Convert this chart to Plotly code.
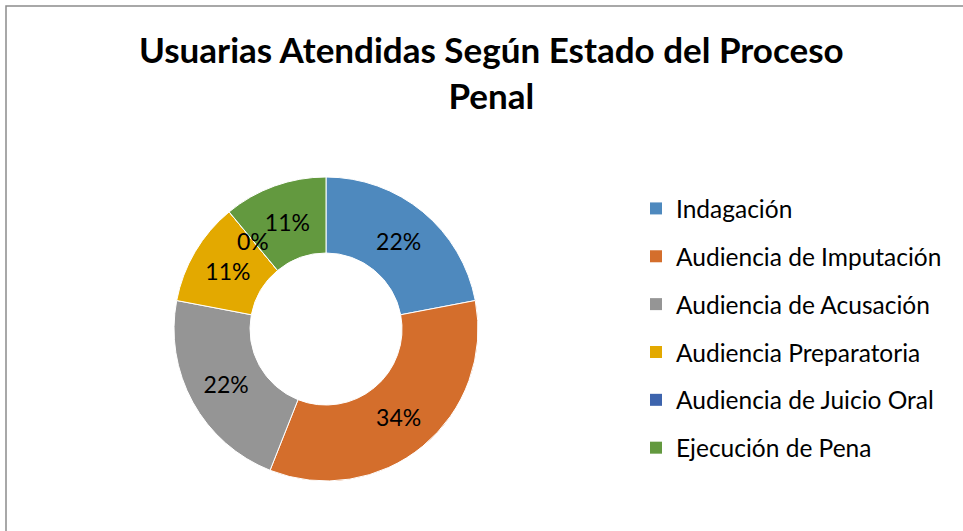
import math
import plotly.graph_objects as go

# Datos del gráfico
estados = [
    "Indagación",
    "Audiencia de Imputación",
    "Audiencia de Acusación",
    "Audiencia Preparatoria",
    "Audiencia de Juicio Oral",
    "Ejecución de Pena",
]
porcentajes = [22, 34, 22, 11, 0, 11]
colores = ["#4E89BE", "#D46E2C", "#959595", "#E3A900", "#3D64AD", "#63993F"]
titulo = "Usuarias Atendidas Según Estado del Proceso<br>Penal"

W, H = 963, 531
FONT = "Lato"
HOLE = 0.5
dom_x = [174 / W, 478 / W]
dom_y = [1 - 481 / H, 1 - 177 / H]

fig = go.Figure()

# Las porciones de valor cero no tienen ángulo propio en el trazo; su
# etiqueta se coloca aparte en el borde donde quedaría la porción.
posiciones = ["none" if v == 0 else "inside" for v in porcentajes]

fig.add_trace(go.Pie(
    labels=estados,
    values=porcentajes,
    marker=dict(colors=colores, line=dict(color="white", width=1)),
    hole=HOLE,
    sort=False,
    direction="clockwise",
    rotation=0,
    textinfo="percent",
    texttemplate="%{percent:.0%}",
    textposition=posiciones,
    insidetextorientation="horizontal",
    textfont=dict(family=FONT, size=23, color="black"),
    showlegend=False,
    hoverinfo="label+percent",
    domain=dict(x=dom_x, y=dom_y),
))

# Etiquetas de porciones vacías, a media altura del anillo
total = sum(porcentajes)
cx = (dom_x[0] + dom_x[1]) / 2 * W
cy = (1 - (dom_y[0] + dom_y[1]) / 2) * H
radio = (dom_x[1] - dom_x[0]) * W / 2
anotaciones = []
acumulado = 0
for v in porcentajes:
    if v == 0:
        ang = 2 * math.pi * acumulado / total
        r = radio * (1 + HOLE) / 2
        px = cx + r * math.sin(ang)
        py = cy - r * math.cos(ang)
        anotaciones.append(dict(
            text=f"{v / total:.0%}", xref="paper", yref="paper",
            x=px / W, y=1 - py / H, xanchor="center", yanchor="middle",
            showarrow=False, font=dict(family=FONT, size=23, color="black"),
        ))
    acumulado += v

# Leyenda: una entrada por estado, con separación entre grupos
for nombre, color in zip(estados, colores):
    fig.add_trace(go.Scatter(
        x=[None], y=[None], mode="markers",
        marker=dict(symbol="square", size=14, color=color),
        name=nombre, legendgroup=nombre, showlegend=True,
        hoverinfo="skip",
    ))

anotaciones.append(dict(
    text="<b>" + titulo + "</b>",
    xref="paper", yref="paper",
    x=491 / W, xanchor="center",
    y=1 - 72 / H, yanchor="middle",
    showarrow=False, align="center",
    font=dict(family=FONT, size=35, color="black"),
))

fig.update_layout(
    width=W, height=H,
    margin=dict(l=0, r=0, t=0, b=0),
    paper_bgcolor="white",
    plot_bgcolor="white",
    font=dict(family=FONT, color="black"),
    uniformtext=dict(minsize=23, mode="show"),
    annotations=anotaciones,
    legend=dict(
        x=636 / W, xanchor="left",
        y=1 - 186 / H, yanchor="top",
        font=dict(family=FONT, size=24.5, color="black"),
        traceorder="grouped",
        tracegroupgap=13,
        itemsizing="constant",
        bgcolor="rgba(0,0,0,0)",
    ),
    xaxis=dict(visible=False),
    yaxis=dict(visible=False),
    shapes=[dict(
        type="rect", xref="paper", yref="paper",
        x0=6 / W, x1=1.05, y0=-0.05, y1=1 - 6 / H,
        line=dict(color="#8C8C8C", width=1.5),
        fillcolor="rgba(0,0,0,0)",
    )],
)

fig.write_html("out.html")
